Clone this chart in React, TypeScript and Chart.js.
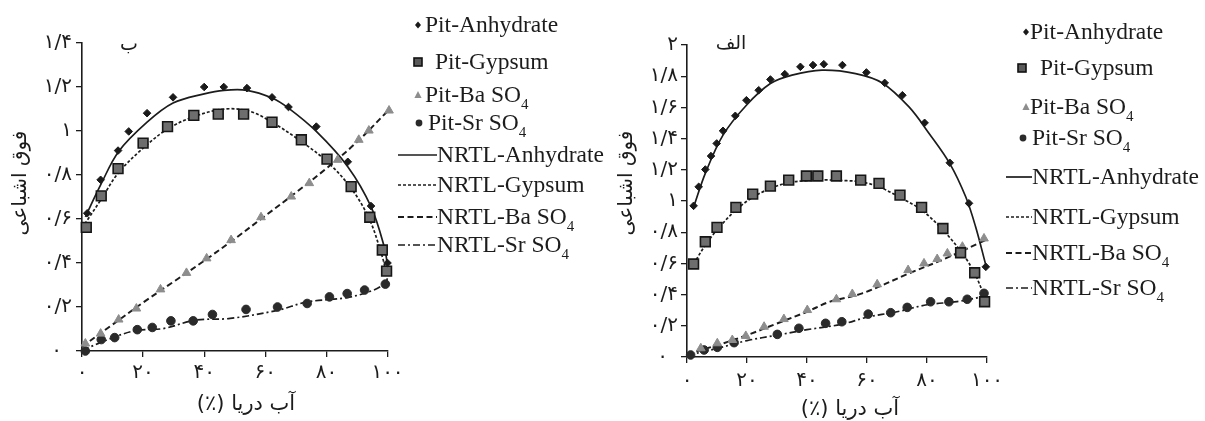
import React, { useEffect, useRef } from 'react';
import { Chart, registerables } from 'chart.js';

Chart.register(...registerables);

// ---------------- Shared labels ----------------
const xTickValues = [0, 20, 40, 60, 80, 100];
const xTickLabels = ['۰', '۲۰', '۴۰', '۶۰', '۸۰', '۱۰۰'];
const yTickValuesLeft = [0, 0.2, 0.4, 0.6, 0.8, 1, 1.2, 1.4];
const yTickLabelsLeft = ['۰\u2002', '۰/۲', '۰/۴', '۰/۶', '۰/۸', '۱', '۱/۲', '۱/۴'];
const yTickValuesRight = [0, 0.2, 0.4, 0.6, 0.8, 1, 1.2, 1.4, 1.6, 1.8, 2];
const yTickLabelsRight = ['۰\u2002', '۰/۲', '۰/۴', '۰/۶', '۰/۸', '۱', '۱/۲', '۱/۴', '۱/۶', '۱/۸', '۲'];
const xTitle = 'آب دریا (٪)';
const yTitle = 'فوق اشباعی';
const panelLeftLabel = 'ب';
const panelRightLabel = 'الف';

// ---------------- Panel "ب" (left) ----------------
const bPitAnhX = [1.7, 6.1, 11.8, 15.3, 21.3, 29.8, 40, 46.4, 54, 62.2, 67.6, 76.7, 87, 94.6, 100];
const bPitAnhY = [0.626, 0.778, 0.911, 0.998, 1.081, 1.153, 1.2, 1.2, 1.195, 1.153, 1.109, 1.02, 0.86, 0.659, 0.4];
const bPitGypX = [1.4, 6.3, 11.8, 20, 28, 36.6, 44.6, 52.9, 62.2, 71.8, 80.2, 88.1, 94.2, 98.3, 99.7];
const bPitGypY = [0.562, 0.705, 0.829, 0.945, 1.02, 1.071, 1.077, 1.077, 1.04, 0.96, 0.872, 0.747, 0.608, 0.459, 0.363];
const bPitBaX = [1.1, 6.1, 12, 17.8, 25.7, 34.2, 40.8, 48.8, 58.6, 68.5, 74.4, 83.7, 90.6, 93.9, 100.5];
const bPitBaY = [0.034, 0.079, 0.143, 0.193, 0.28, 0.355, 0.421, 0.504, 0.608, 0.702, 0.763, 0.869, 0.96, 1.002, 1.093];
const bPitSrX = [1.1, 6.3, 10.7, 18.1, 23, 29.1, 36.4, 42.7, 53.7, 64, 73.7, 81, 86.8, 92.5, 99.3];
const bPitSrY = [0.0, 0.052, 0.061, 0.097, 0.107, 0.137, 0.137, 0.166, 0.189, 0.2, 0.216, 0.246, 0.261, 0.277, 0.304];

const bNrtlAnhX = [1.1, 6.1, 12, 21.3, 29.8, 40, 46.4, 54, 62.2, 67.6, 76.7, 87, 94.6, 99, 100];
const bNrtlAnhY = [0.61, 0.755, 0.907, 1.04, 1.127, 1.169, 1.185, 1.185, 1.15, 1.104, 0.998, 0.838, 0.656, 0.47, 0.39];
const bNrtlGypX = [0.9, 6.3, 11.8, 20, 28, 36.6, 46.8, 55, 62.2, 71.8, 80.2, 88.1, 94.2, 98.3, 99.4];
const bNrtlGypY = [0.577, 0.69, 0.808, 0.922, 1.009, 1.065, 1.1, 1.089, 1.04, 0.952, 0.861, 0.74, 0.595, 0.428, 0.368];
const bNrtlBaX = [0, 10, 20, 30, 40, 50, 60, 70, 80, 90, 100];
const bNrtlBaY = [0.02, 0.12, 0.22, 0.315, 0.41, 0.51, 0.615, 0.72, 0.83, 0.95, 1.09];
const bNrtlSrX = [0, 10.7, 18.1, 26.6, 37, 48.5, 64, 73.7, 86.8, 95.5, 99.3, 100];
const bNrtlSrY = [0.003, 0.064, 0.094, 0.102, 0.14, 0.148, 0.185, 0.223, 0.243, 0.277, 0.31, 0.33];

// ---------------- Panel "الف" (right) ----------------
const aPitAnhX = [2.2, 3.9, 6.1, 8, 9.9, 12, 16.1, 19.8, 23.9, 27.8, 32.6, 37.8, 42, 45.6, 51.8, 59.8, 65.9, 71.8, 79.2, 87.6, 94, 99.6];
const aPitAnhY = [0.969, 1.091, 1.202, 1.288, 1.369, 1.45, 1.546, 1.646, 1.71, 1.779, 1.813, 1.86, 1.871, 1.877, 1.871, 1.824, 1.757, 1.678, 1.501, 1.245, 0.985, 0.578];
const aPitGypX = [2.2, 6.1, 10, 16.3, 21.9, 27.8, 33.9, 39.8, 43.6, 49.8, 57.9, 64, 71, 78.2, 85.3, 91.2, 95.9, 99.2];
const aPitGypY = [0.596, 0.739, 0.831, 0.959, 1.044, 1.095, 1.134, 1.16, 1.16, 1.16, 1.134, 1.113, 1.038, 0.959, 0.824, 0.668, 0.54, 0.354];
const aPitBaX = [4.6, 10.1, 15.1, 19.6, 25.7, 32.3, 40.1, 49.8, 55.1, 63.4, 73.7, 79, 83.4, 86.8, 91.8, 99];
const aPitBaY = [0.056, 0.088, 0.109, 0.135, 0.194, 0.243, 0.301, 0.37, 0.404, 0.466, 0.557, 0.6, 0.628, 0.664, 0.707, 0.76];
const aPitSrX = [1.2, 5.7, 10.1, 15.7, 30.1, 37.3, 46.2, 51.6, 60.4, 67.9, 73.4, 81.2, 87.3, 93.4, 99];
const aPitSrY = [0.013, 0.045, 0.062, 0.092, 0.145, 0.184, 0.216, 0.226, 0.275, 0.284, 0.318, 0.354, 0.354, 0.37, 0.408];

const aNrtlAnhX = [2.2, 6.1, 12, 19.8, 27.8, 35, 45, 56.2, 65.1, 74, 80.7, 87.6, 92.9, 96.2, 99.6];
const aNrtlAnhY = [0.96, 1.177, 1.422, 1.614, 1.753, 1.807, 1.839, 1.817, 1.757, 1.603, 1.433, 1.24, 1.027, 0.835, 0.59];
const aNrtlGypX = [2.2, 6.1, 10, 16.3, 21.9, 27.8, 33.9, 39.8, 46, 53.3, 57.9, 64, 71, 78.2, 85.3, 91.8, 95.9, 99.2];
const aNrtlGypY = [0.596, 0.717, 0.815, 0.942, 1.023, 1.081, 1.118, 1.13, 1.135, 1.13, 1.123, 1.091, 1.023, 0.942, 0.814, 0.664, 0.536, 0.386];
const aNrtlBaX = [0, 10, 20, 30, 40, 47.7, 58.4, 74, 86.2, 99.6];
const aNrtlBaY = [0.02, 0.075, 0.14, 0.215, 0.29, 0.355, 0.408, 0.536, 0.632, 0.75];
const aNrtlSrX = [0, 10, 20, 30, 40, 51.6, 60, 70, 80, 90, 99.5];
const aNrtlSrY = [0.01, 0.055, 0.105, 0.14, 0.175, 0.21, 0.255, 0.29, 0.335, 0.355, 0.39];

// ---------------- Legend labels ----------------
const pitLabels = [['Pit-Anhydrate', ''], ['Pit-Gypsum', ''], ['Pit-Ba SO', '4'], ['Pit-Sr SO', '4']];
const nrtlLabels = [['NRTL-Anhydrate', ''], ['NRTL-Gypsum', ''], ['NRTL-Ba SO', '4'], ['NRTL-Sr SO', '4']];

// ---------------- Styles ----------------
const INK = '#1c1c1c';
const markerStyles = [
  { pointStyle: 'rectRot', radius: 3.8, bg: '#1a1a1a', border: '#1a1a1a', bw: 1 },
  { pointStyle: 'rect', radius: 6.9, bg: '#6e6e6e', border: '#161616', bw: 1.6 },
  { pointStyle: 'triangle', radius: 5, bg: '#8d8d8d', border: '#8d8d8d', bw: 1 },
  { pointStyle: 'circle', radius: 4.3, bg: '#2a2a2a', border: '#2a2a2a', bw: 1 },
];
const lineStyles = [
  { dash: [] as number[], width: 1.7 },
  { dash: [3, 2], width: 1.7 },
  { dash: [6, 3.5], width: 2 },
  { dash: [7, 3, 2, 3], width: 1.7 },
];

const pts = (xs: number[], ys: number[]) => xs.map((x, i) => ({ x, y: ys[i] }));

function buildDatasets(pit: [number[], number[]][], nrtl: [number[], number[]][]) {
  const ds: any[] = [];
  pit.forEach(([xs, ys], i) => {
    const m = markerStyles[i];
    ds.push({
      label: pitLabels[i].join(''),
      data: pts(xs, ys),
      showLine: false,
      clip: false,
      pointStyle: m.pointStyle,
      pointRadius: m.radius,
      pointBackgroundColor: m.bg,
      pointBorderColor: m.border,
      pointBorderWidth: m.bw,
    });
  });
  nrtl.forEach(([xs, ys], i) => {
    const l = lineStyles[i];
    ds.push({
      label: nrtlLabels[i].join(''),
      data: pts(xs, ys),
      showLine: true,
      clip: false,
      pointRadius: 0,
      borderColor: INK,
      borderWidth: l.width,
      borderDash: l.dash,
      tension: 0.35,
      fill: false,
    });
  });
  return ds;
}

type PanelText = {
  xTitleX: number; xTitleY: number;
  yTitleX: number; yTitleY: number;
  panel: string; panelX: number; panelY: number;
};

function makeTextPlugin(t: PanelText) {
  return {
    id: 'panelText',
    afterDraw(chart: any) {
      const { ctx } = chart;
      ctx.save();
      ctx.fillStyle = INK;
      ctx.textAlign = 'center';
      ctx.textBaseline = 'middle';
      ctx.direction = 'rtl';
      ctx.font = '21px "DejaVu Sans"';
      ctx.fillText(xTitle, t.xTitleX, t.xTitleY);
      ctx.font = '19px "DejaVu Sans"';
      ctx.fillText(t.panel, t.panelX, t.panelY);
      ctx.font = '20px "DejaVu Sans"';
      ctx.translate(t.yTitleX, t.yTitleY);
      ctx.rotate(-Math.PI / 2);
      ctx.fillText(yTitle, 0, 0);
      ctx.restore();
    },
  };
}

type PanelProps = {
  left: number;
  width: number;
  datasets: any[];
  yMax: number;
  yTickValues: number[];
  yTickLabels: string[];
  area: { left: number; top: number; right: number; bottom: number };
  xTickPad: number;
  yTickPad: number;
  text: PanelText;
};

const H = 421;

function Panel(p: PanelProps) {
  const ref = useRef<HTMLCanvasElement>(null);
  useEffect(() => {
    const tickFont = { family: '"DejaVu Sans"', size: 20 };
    const chart = new Chart(ref.current as HTMLCanvasElement, {
      type: 'scatter',
      data: { datasets: p.datasets },
      options: {
        responsive: false,
        maintainAspectRatio: false,
        animation: false,
        events: [],
        layout: {
          padding: { left: 0, top: p.area.top, right: p.width - p.area.right, bottom: 0 },
        },
        plugins: { legend: { display: false }, tooltip: { enabled: false } },
        scales: {
          x: {
            type: 'linear',
            min: 0,
            max: 100,
            afterBuildTicks: (s: any) => { s.ticks = xTickValues.map((v) => ({ value: v })); },
            afterFit: (s: any) => { s.height = H - p.area.bottom; },
            ticks: {
              autoSkip: false,
              maxRotation: 0,
              minRotation: 0,
              padding: p.xTickPad,
              color: INK,
              font: tickFont,
              callback: (_v: any, i: number) => xTickLabels[i],
            },
            grid: { drawOnChartArea: false, drawTicks: true, tickLength: 6, color: INK, lineWidth: 1.3 },
            border: { display: true, color: INK, width: 1.6 },
          },
          y: {
            type: 'linear',
            min: 0,
            max: p.yMax,
            afterBuildTicks: (s: any) => { s.ticks = p.yTickValues.map((v) => ({ value: v })); },
            afterFit: (s: any) => { s.width = p.area.left; },
            ticks: {
              autoSkip: false,
              padding: p.yTickPad,
              color: INK,
              font: tickFont,
              callback: (_v: any, i: number) => p.yTickLabels[i],
            },
            grid: { drawOnChartArea: false, drawTicks: true, tickLength: 6, color: INK, lineWidth: 1.3 },
            border: { display: true, color: INK, width: 1.6 },
          },
        },
      } as any,
      plugins: [makeTextPlugin(p.text)],
    });
    return () => chart.destroy();
  }, []);
  return (
    <canvas
      ref={ref}
      width={p.width}
      height={H}
      style={{ position: 'absolute', left: p.left, top: 0, width: p.width, height: H, display: 'block' }}
    />
  );
}

function MarkerIcon({ kind }: { kind: number }) {
  const s = 14;
  const c = s / 2;
  let el: any = null;
  if (kind === 0) el = <polygon points={`${c},${c - 3.6} ${c + 3},${c} ${c},${c + 3.6} ${c - 3},${c}`} fill="#1a1a1a" />;
  if (kind === 1) el = <rect x={c - 4} y={c - 4} width={8} height={8} fill="#5a5a5a" stroke="#111" strokeWidth={1.6} />;
  if (kind === 2) el = <polygon points={`${c},${c - 4} ${c + 3.6},${c + 3} ${c - 3.6},${c + 3}`} fill="#8d8d8d" />;
  if (kind === 3) el = <circle cx={c} cy={c} r={3.4} fill="#2a2a2a" />;
  return <svg width={s} height={s} style={{ display: 'block' }}>{el}</svg>;
}

function LineIcon({ kind, w }: { kind: number; w: number }) {
  const l = lineStyles[kind];
  return (
    <svg width={w} height={6} style={{ display: 'block' }}>
      <line x1={0} y1={3} x2={w} y2={3} stroke={INK} strokeWidth={l.width} strokeDasharray={l.dash.join(' ')} />
    </svg>
  );
}

type LegendLayout = {
  rows: number[];
  markerX: number[];
  pitTextX: number[];
  lineX1: number;
  lineX2: number;
};

function LegendText({ parts, x, y }: { parts: string[]; x: number; y: number }) {
  return (
    <div
      style={{
        position: 'absolute',
        left: x,
        top: y - 12,
        font: '23.5px "Liberation Serif"',
        lineHeight: '23.5px',
        whiteSpace: 'nowrap',
        color: INK,
      }}
    >
      {parts[0]}
      {parts[1] ? <span style={{ fontSize: 15, position: 'relative', top: 7 }}>{parts[1]}</span> : null}
    </div>
  );
}

function Legend({ lay }: { lay: LegendLayout }) {
  const items: any[] = [];
  pitLabels.forEach((parts, i) => {
    const y = lay.rows[i];
    items.push(
      <div key={'m' + i} style={{ position: 'absolute', left: lay.markerX[i] - 7, top: y - 7 }}>
        <MarkerIcon kind={i} />
      </div>
    );
    items.push(<LegendText key={'t' + i} parts={parts} x={lay.pitTextX[i]} y={y} />);
  });
  nrtlLabels.forEach((parts, i) => {
    const y = lay.rows[4 + i];
    items.push(
      <div key={'l' + i} style={{ position: 'absolute', left: lay.lineX1, top: y - 3 }}>
        <LineIcon kind={i} w={lay.lineX2 - lay.lineX1} />
      </div>
    );
    items.push(<LegendText key={'n' + i} parts={parts} x={lay.lineX2} y={y} />);
  });
  return <>{items}</>;
}

const leftLegend: LegendLayout = {
  rows: [25, 62, 95, 123, 155, 185, 217, 245],
  markerX: [418, 418, 418, 419],
  pitTextX: [425, 435, 425, 428],
  lineX1: 398,
  lineX2: 437,
};
const rightLegend: LegendLayout = {
  rows: [32, 68, 107, 138, 177, 217, 253, 288],
  markerX: [1026, 1022, 1026, 1023],
  pitTextX: [1030, 1040, 1030, 1032],
  lineX1: 1006,
  lineX2: 1032,
};

export default function App() {
  const leftDatasets = buildDatasets(
    [[bPitAnhX, bPitAnhY], [bPitGypX, bPitGypY], [bPitBaX, bPitBaY], [bPitSrX, bPitSrY]],
    [[bNrtlAnhX, bNrtlAnhY], [bNrtlGypX, bNrtlGypY], [bNrtlBaX, bNrtlBaY], [bNrtlSrX, bNrtlSrY]]
  );
  const rightDatasets = buildDatasets(
    [[aPitAnhX, aPitAnhY], [aPitGypX, aPitGypY], [aPitBaX, aPitBaY], [aPitSrX, aPitSrY]],
    [[aNrtlAnhX, aNrtlAnhY], [aNrtlGypX, aNrtlGypY], [aNrtlBaX, aNrtlBaY], [aNrtlSrX, aNrtlSrY]]
  );
  return (
    <div style={{ position: 'absolute', left: 0, top: 0, width: 1205, height: H, background: '#fff', overflow: 'hidden' }}>
      <Panel
        left={0}
        width={600}
        datasets={leftDatasets}
        yMax={1.4}
        yTickValues={yTickValuesLeft}
        yTickLabels={yTickLabelsLeft}
        area={{ left: 82, top: 43, right: 387.5, bottom: 351 }}
        xTickPad={4}
        yTickPad={4}
        text={{ xTitleX: 246, xTitleY: 405, yTitleX: 21, yTitleY: 183, panel: panelLeftLabel, panelX: 129, panelY: 45 }}
      />
      <Panel
        left={600}
        width={605}
        datasets={rightDatasets}
        yMax={2}
        yTickValues={yTickValuesRight}
        yTickLabels={yTickLabelsRight}
        area={{ left: 87, top: 45, right: 387, bottom: 357 }}
        xTickPad={6}
        yTickPad={3}
        text={{ xTitleX: 250, xTitleY: 410, yTitleX: 27, yTitleY: 183, panel: panelRightLabel, panelX: 131, panelY: 44 }}
      />
      <Legend lay={leftLegend} />
      <Legend lay={rightLegend} />
    </div>
  );
}
